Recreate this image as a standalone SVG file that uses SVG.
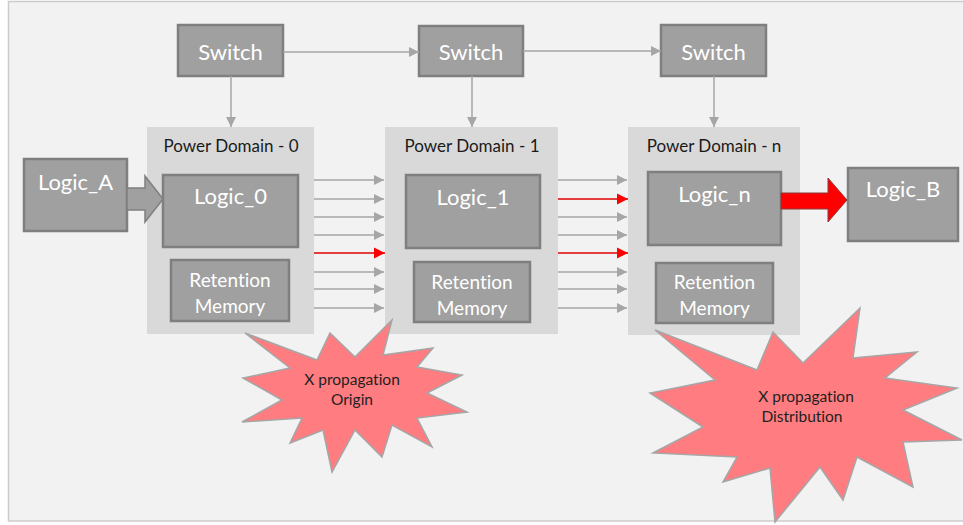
<svg xmlns="http://www.w3.org/2000/svg" width="963" height="525" viewBox="0 0 963 525">
  <defs>
    <marker id="head-gray" viewBox="0 0 10 10" refX="10" refY="5" markerWidth="10" markerHeight="11" markerUnits="userSpaceOnUse" orient="auto">
      <path d="M0,0 L10,5 L0,10 Z" fill="#a6a6a6"/>
    </marker>
    <marker id="head-red" viewBox="0 0 10 10" refX="10" refY="5" markerWidth="11" markerHeight="12" markerUnits="userSpaceOnUse" orient="auto">
      <path d="M0,0 L10,5 L0,10 Z" fill="#ff0000"/>
    </marker>
    <style>
      text { font-variant-ligatures: none; }
      .panel { fill: #f2f2f2; stroke: #cccccc; stroke-width: 1.5; }
      .domain { fill: #d9d9d9; }
      .box { fill: #a0a0a0; stroke: #7f7f7f; stroke-width: 2.5; }
      .label { font-family: Lato, "Liberation Sans", sans-serif; fill: #ffffff; text-anchor: middle; }
      .big { font-size: 22px; }
      .mem { font-size: 19px; }
      .title { font-family: Lato, "Liberation Sans", sans-serif; font-size: 17px; fill: #1a1a1a; text-anchor: middle; }
      .burst { fill: #ff7c80; stroke: #a6a6a6; stroke-width: 1.5; stroke-linejoin: miter; }
      .burst-text { font-family: Lato, "Liberation Sans", sans-serif; font-size: 15.5px; fill: #1f1f1f; text-anchor: middle; }
      .wire { stroke: #a6a6a6; stroke-width: 1.5; fill: none; marker-end: url(#head-gray); }
      .wire-red { stroke: #e00000; stroke-width: 1.5; fill: none; marker-end: url(#head-red); }
    </style>
  </defs>

  <!-- background panel -->
  <rect class="panel" x="8.5" y="1.5" width="965" height="519.5"/>

  <!-- power domains -->
  <g id="domain-0">
    <rect class="domain" x="147" y="127" width="167" height="207"/>
    <text class="title" x="231" y="152">Power Domain - 0</text>
  </g>
  <g id="domain-1">
    <rect class="domain" x="385" y="127" width="173" height="207"/>
    <text class="title" x="472" y="152">Power Domain - 1</text>
  </g>
  <g id="domain-n">
    <rect class="domain" x="628" y="127" width="172" height="208"/>
    <text class="title" x="714" y="152">Power Domain - n</text>
  </g>

  <!-- switches -->
  <g id="switch-0">
    <rect class="box" x="178" y="25" width="105" height="51"/>
    <text class="label big" x="230.5" y="60">Switch</text>
  </g>
  <g id="switch-1">
    <rect class="box" x="419" y="26" width="104" height="50"/>
    <text class="label big" x="471" y="60">Switch</text>
  </g>
  <g id="switch-n">
    <rect class="box" x="661" y="25" width="105" height="51"/>
    <text class="label big" x="713.5" y="60">Switch</text>
  </g>

  <!-- logic blocks -->
  <g id="logic-a">
    <rect class="box" x="24" y="159" width="103" height="72"/>
    <text class="label big" x="75.5" y="190">Logic_A</text>
  </g>
  <g id="logic-0">
    <rect class="box" x="163" y="175" width="135" height="72"/>
    <text class="label big" x="230.5" y="204">Logic_0</text>
  </g>
  <g id="logic-1">
    <rect class="box" x="406" y="175" width="134" height="73"/>
    <text class="label big" x="473" y="205">Logic_1</text>
  </g>
  <g id="logic-n">
    <rect class="box" x="648" y="172" width="133" height="73"/>
    <text class="label big" x="714.5" y="202">Logic_n</text>
  </g>
  <g id="logic-b">
    <rect class="box" x="848" y="168" width="110" height="73"/>
    <text class="label big" x="903" y="197">Logic_B</text>
  </g>

  <!-- retention memories -->
  <g id="retention-0">
    <rect class="box" x="171" y="260" width="118" height="61"/>
    <text class="label mem" x="230" y="287">Retention</text>
    <text class="label mem" x="230" y="313">Memory</text>
  </g>
  <g id="retention-1">
    <rect class="box" x="414" y="262" width="116" height="60"/>
    <text class="label mem" x="472" y="289">Retention</text>
    <text class="label mem" x="472" y="315">Memory</text>
  </g>
  <g id="retention-n">
    <rect class="box" x="656" y="263" width="117" height="60"/>
    <text class="label mem" x="714.5" y="289">Retention</text>
    <text class="label mem" x="714.5" y="315">Memory</text>
  </g>

  <!-- connectors -->
  <g id="connectors">
    <!-- switch chain -->
    <line class="wire" x1="283" y1="52" x2="419" y2="52"/>
    <line class="wire" x1="523" y1="51" x2="661" y2="51"/>
    <!-- switch supply into each domain -->
    <line class="wire" x1="231" y1="76" x2="231" y2="127"/>
    <line class="wire" x1="472" y1="76" x2="472" y2="127"/>
    <line class="wire" x1="714" y1="76" x2="714" y2="127"/>

    <!-- bus: domain 0 to domain 1 -->
    <line class="wire" x1="314" y1="180" x2="384" y2="180"/>
    <line class="wire" x1="314" y1="199" x2="384" y2="199"/>
    <line class="wire" x1="314" y1="217" x2="384" y2="217"/>
    <line class="wire" x1="314" y1="235" x2="384" y2="235"/>
    <line class="wire-red" x1="314" y1="253" x2="385" y2="253"/>
    <line class="wire" x1="314" y1="272" x2="384" y2="272"/>
    <line class="wire" x1="314" y1="289" x2="384" y2="289"/>
    <line class="wire" x1="314" y1="308" x2="384" y2="308"/>

    <!-- bus: domain 1 to domain n -->
    <line class="wire" x1="558" y1="180" x2="627" y2="180"/>
    <line class="wire-red" x1="558" y1="199" x2="628" y2="199"/>
    <line class="wire" x1="558" y1="217" x2="627" y2="217"/>
    <line class="wire" x1="558" y1="235" x2="627" y2="235"/>
    <line class="wire-red" x1="558" y1="253" x2="628" y2="253"/>
    <line class="wire" x1="558" y1="272" x2="627" y2="272"/>
    <line class="wire" x1="558" y1="289" x2="627" y2="289"/>
    <line class="wire" x1="558" y1="308" x2="627" y2="308"/>

    <!-- block arrows -->
    <path d="M127,188 L145,188 L145,176 L163,199 L145,222 L145,210 L127,210 Z" fill="#a0a0a0" stroke="#7f7f7f" stroke-width="1.5"/>
    <path d="M781,193 L828,193 L828,178 L847,200 L828,222 L828,209 L781,209 Z" fill="#ff0000" stroke="#8c3a3a" stroke-width="1"/>
  </g>

  <!-- starbursts -->
  <g id="burst-origin">
    <polygon class="burst" points="245,333 317,360 330,333 355,357 392,320 383,355 433,348 417,367 462,375 427,393 467,412 417,418 432,447 392,425 382,457 355,430 332,472 323,430 290,443 302,418 242,422 282,400 243,378 290,368"/>
    <text class="burst-text" x="352" y="385">X propagation</text>
    <text class="burst-text" x="352" y="405">Origin</text>
  </g>
  <g id="burst-distribution">
    <polygon class="burst" points="655,330 757,370 773,332 803,363 860,308 853,358 917,352 885,378 957,388 903,410 962,440 903,442 913,487 857,457 843,500 820,467 775,522 770,468 723,482 737,457 653,453 703,427 650,393 715,380"/>
    <text class="burst-text" x="806" y="402">X propagation</text>
    <text class="burst-text" x="802" y="422">Distribution</text>
  </g>
</svg>
